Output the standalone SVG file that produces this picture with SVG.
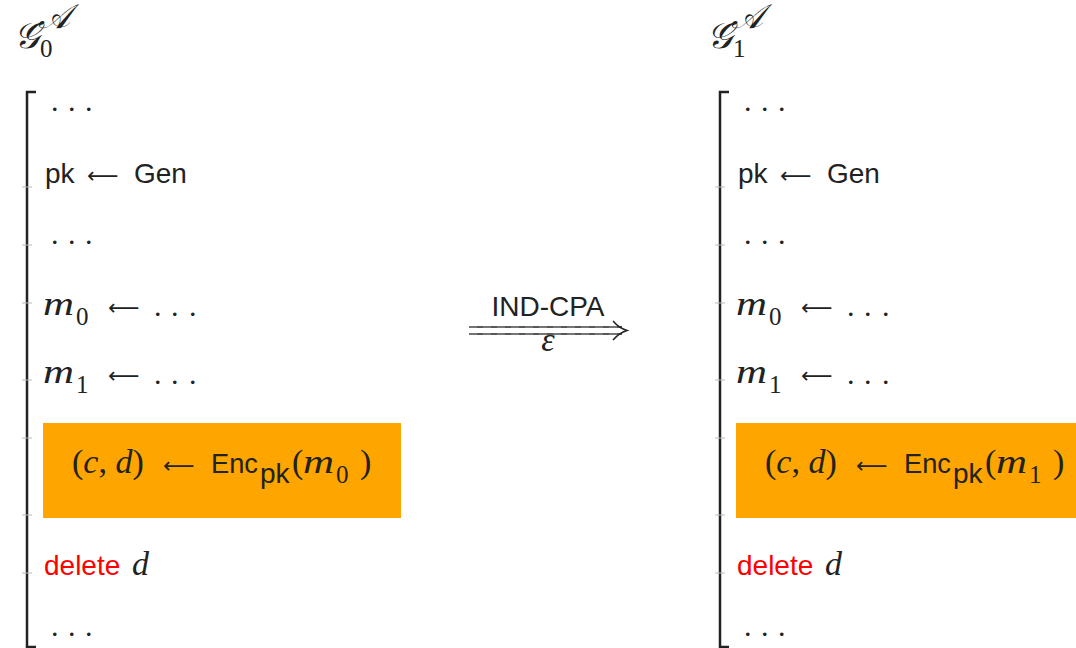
<svg xmlns="http://www.w3.org/2000/svg" width="1076" height="648" viewBox="0 0 1076 648">
<style>
.sans{font-family:"Liberation Sans",Arial,sans-serif;font-size:28px;fill:#222}
.mi{font-family:"Liberation Serif","DejaVu Serif",serif;font-style:italic;font-size:34px;fill:#222}
.rm{font-family:"Liberation Serif","DejaVu Serif",serif;font-style:normal;font-size:34px;fill:#222}
.sub{font-family:"Liberation Serif","DejaVu Serif",serif;font-size:25px;fill:#222}
.arr{font-family:"DejaVu Sans",sans-serif;font-size:22px;fill:#222}
.dots{font-family:"Liberation Serif",serif;font-size:30px;fill:#222}
.red{fill:#ff0000}
.box{fill:#ffa500}
.br{stroke:#222;stroke-width:2.5;fill:none}
.tick{stroke:#bbb;stroke-width:1}
</style>
<rect width="1076" height="648" fill="#fff"/>
<g id="game0">
  <text x="14" y="48" class="mi" style="font-size:36px">𝒢</text>
  <text x="40" y="57" class="sub" font-size="27">0</text>
  <text x="38" y="28" class="mi" font-size="26">𝒜</text>
  <path class="br" d="M36,92 H27 V647 H36"/>
  <path class="tick" d="M22,187 H32 M22,245 H32 M22,303 H32 M22,380 H32 M22,438 H32 M22,515 H32 M22,573 H32"/>
  <text x="51 68 85" y="111" class="dots">...</text>
  <text x="45" y="183" class="sans">pk</text>
  <text x="87" y="183" class="arr">⟵</text>
  <text x="134" y="183" class="sans">Gen</text>
  <text x="51 68 85" y="244" class="dots">...</text>
  <text x="43" y="315" class="mi" textLength="31" lengthAdjust="spacingAndGlyphs">m</text>
  <text x="76" y="325" class="sub">0</text>
  <text x="108" y="315" class="arr">⟵</text>
  <text x="154 171 189" y="316" class="dots">...</text>
  <text x="43" y="383" class="mi" textLength="31" lengthAdjust="spacingAndGlyphs">m</text>
  <text x="76" y="393" class="sub">1</text>
  <text x="108" y="383" class="arr">⟵</text>
  <text x="154 171 189" y="384" class="dots">...</text>
  <rect class="box" x="43" y="423" width="358" height="95"/>
  <text x="72" y="473" class="mi"><tspan class="rm">(</tspan>c<tspan class="rm">,</tspan> d<tspan class="rm">)</tspan></text>
  <text x="163" y="473" class="arr">⟵</text>
  <text x="211" y="473" class="sans" textLength="47" lengthAdjust="spacingAndGlyphs">Enc</text>
  <text x="260" y="483" class="sans" font-size="26">pk</text>
  <text x="292" y="473" class="rm">(</text>
  <text x="303" y="473" class="mi" textLength="31" lengthAdjust="spacingAndGlyphs">m</text>
  <text x="336" y="483" class="sub">0</text>
  <text x="360" y="473" class="rm">)</text>
  <text x="44" y="575" class="sans red">delete</text>
  <text x="132" y="575" class="mi">d</text>
  <text x="51 68 85" y="636" class="dots">...</text>
</g>
<g id="game1">
  <text x="707" y="48" class="mi" style="font-size:36px">𝒢</text>
  <text x="733" y="57" class="sub" font-size="27">1</text>
  <text x="731" y="28" class="mi" font-size="26">𝒜</text>
  <path class="br" d="M729,92 H720 V647 H729"/>
  <path class="tick" d="M715,187 H725 M715,245 H725 M715,303 H725 M715,380 H725 M715,438 H725 M715,515 H725 M715,573 H725"/>
  <text x="744 761 778" y="111" class="dots">...</text>
  <text x="738" y="183" class="sans">pk</text>
  <text x="780" y="183" class="arr">⟵</text>
  <text x="827" y="183" class="sans">Gen</text>
  <text x="744 761 778" y="244" class="dots">...</text>
  <text x="736" y="315" class="mi" textLength="31" lengthAdjust="spacingAndGlyphs">m</text>
  <text x="769" y="325" class="sub">0</text>
  <text x="801" y="315" class="arr">⟵</text>
  <text x="847 864 882" y="316" class="dots">...</text>
  <text x="736" y="383" class="mi" textLength="31" lengthAdjust="spacingAndGlyphs">m</text>
  <text x="769" y="393" class="sub">1</text>
  <text x="801" y="383" class="arr">⟵</text>
  <text x="847 864 882" y="384" class="dots">...</text>
  <rect class="box" x="736" y="423" width="345" height="95"/>
  <text x="765" y="473" class="mi"><tspan class="rm">(</tspan>c<tspan class="rm">,</tspan> d<tspan class="rm">)</tspan></text>
  <text x="856" y="473" class="arr">⟵</text>
  <text x="904" y="473" class="sans" textLength="47" lengthAdjust="spacingAndGlyphs">Enc</text>
  <text x="953" y="483" class="sans" font-size="26">pk</text>
  <text x="985" y="473" class="rm">(</text>
  <text x="996" y="473" class="mi" textLength="31" lengthAdjust="spacingAndGlyphs">m</text>
  <text x="1029" y="483" class="sub">1</text>
  <text x="1053" y="473" class="rm">)</text>
  <text x="737" y="575" class="sans red">delete</text>
  <text x="825" y="575" class="mi">d</text>
  <text x="744 761 778" y="636" class="dots">...</text>
</g>
<g id="connectors">
  <text x="548" y="316" class="sans" text-anchor="middle" font-size="29">IND-CPA</text>
  <path d="M469,327 H622 M469,334 H622" stroke="#222" stroke-width="1.5" fill="none"/>
  <path d="M469,327 H622 M469,334 H622" stroke="#999" stroke-width="1.5" stroke-dasharray="8 6" fill="none" opacity="0.6"/>
  <path d="M613,321 Q619,328 627,330.5 Q619,333 613,340" stroke="#222" stroke-width="1.5" fill="none"/>
  <text x="548" y="351" class="mi" text-anchor="middle" font-size="17">ε</text>
</g>
</svg>
